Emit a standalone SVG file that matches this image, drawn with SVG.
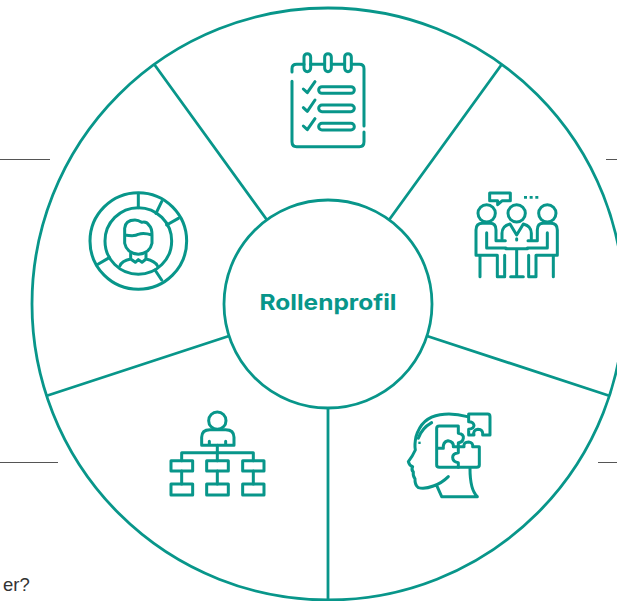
<svg xmlns="http://www.w3.org/2000/svg" width="617" height="601" viewBox="0 0 617 601">
<style>
.s{fill:none;stroke:#08968a;stroke-width:2.800}
.g{fill:none;stroke:#08968a;stroke-width:9;stroke-linecap:round;stroke-linejoin:round}
.h{stroke:#555;stroke-width:1;fill:none}
</style>
<rect width="617" height="601" fill="#fff"/>
<g id="side-lines">
<path class="h" d="M0 159.500H50M606 159.500H617M0 462.500H58M598 462.500H617"/>
</g>
<text x="3" y="591" font-family="Liberation Sans, Arial, sans-serif" font-size="18.500" fill="#333">er?</text>
<g id="wheel"><circle class="s" cx="328" cy="304" r="296"/></g>
<g id="connectors">
<path class="s" d="M267 220L154 64M389 220L502 64M427 336L610 396M328 408V600M229 336L46 396"/>
</g>
<g id="center"><circle class="s" cx="328" cy="304" r="104"/>
<text x="328" y="310" text-anchor="middle" font-family="Inter, Lato, sans-serif" font-weight="700" font-size="22" textLength="137" lengthAdjust="spacingAndGlyphs" fill="#08968a">Rollenprofil</text></g>
<g id="checklist" transform="translate(270 40) scale(.3333)">
<path class="g" d="M66 96V86Q66 73 80 73H102M122 73H160M185 73H222M245 73H268Q282 73 282 86V258M282 276V305Q282 320 268 320H80Q66 320 66 305V124"/>
<rect class="g" x="102" y="41" width="20" height="54" rx="10"/><rect class="g" x="164" y="41" width="20" height="54" rx="10"/><rect class="g" x="224" y="41" width="20" height="54" rx="10"/>
<path class="g" d="M100 147L112 158L135 125M100 203L112 214L135 180M100 258L112 269L135 236"/>
<rect class="g" x="146" y="140" width="107" height="20" rx="10"/><rect class="g" x="146" y="195" width="107" height="20" rx="10"/><rect class="g" x="146" y="250" width="107" height="20" rx="10"/>
</g>
<g id="meeting" transform="translate(460 180) scale(.3333)">
<circle class="g" cx="80" cy="100" r="26"/><circle class="g" cx="170" cy="100" r="26"/><circle class="g" cx="262" cy="100" r="26"/>
<path class="g" d="M89 39H151V62H127L113 74V62H89Z"/>
<path d="M192 48h9v8h-9zM209 48h9v8h-9zM226 48h9v8h-9z" fill="#08968a"/>
<path class="g" d="M60 290V226H48V150Q48 130 68 130H90Q108 130 108 150V182H136M80 158V204H138M60 226H112V290M134 226V290H112"/>
<path class="g" d="M280 290V226H292V150Q292 130 272 130H250Q232 130 232 150V182H204M262 158V204H202M228 226V290M206 226V290H228M280 226H228"/>
<path class="g" d="M126 178V160Q126 138 150 132L170 165L190 132Q214 138 214 160V178M170 176V180"/>
<path class="g" d="M138 206H202M170 206V290M152 290H190"/>
</g>
<g id="head" transform="translate(390 400) scale(.3333)">
<path class="g" d="M232 50Q190 38 150 44Q95 52 78 110Q73 135 76 150Q68 168 55 185Q58 197 68 200Q63 210 70 216Q68 228 75 236Q74 255 85 263Q105 268 130 258Q155 250 175 230M140 256L155 290H262Q240 270 240 205"/>
<path class="g" d="M85 115Q95 85 125 68"/>
<path d="M85 125h7v7h-7z" fill="#08968a"/>
<path class="g" d="M140 145V85Q140 78 148 78H205V100Q222 102 220 115Q218 128 205 128V140H190Q192 125 174 122Q158 125 160 145H140ZM140 145V195Q140 202 148 202H205V188Q188 186 188 172Q188 160 205 158V142"/>
<path class="g" d="M205 140H222Q220 126 236 126Q250 128 248 140H268V195Q268 202 260 202H205"/>
<path class="g" d="M236 65V42H293Q300 42 300 50V105H278Q280 88 264 88Q248 90 252 105H236V88Q252 86 252 76Q250 65 236 65Z"/>
</g>
<g id="org" transform="translate(160 400) scale(.3333)">
<circle class="g" cx="172" cy="62" r="26"/>
<path class="g" d="M125 136V112Q125 89 150 89H197Q222 89 222 112V136ZM148 124V136M197 124V136"/>
<path class="g" d="M172 136V182M65 182V158H280V182M65 213V252M172 213V252M280 213V252"/>
<path class="g" d="M33 182H98V213H33ZM140 182H205V213H140ZM248 182H312V213H248ZM33 252H98V285H33ZM140 252H205V285H140ZM248 252H312V285H248Z"/>
</g>
<g id="profile" transform="translate(80 185) scale(.3333)">
<circle class="g" cx="175" cy="168" r="145"/><circle class="g" cx="175" cy="168" r="100"/>
<path class="g" d="M175 28V68M245 50L228 85M295 100L260 120M50 240L88 218M245 285L225 255"/>
<path class="g" d="M134 150V130Q136 105 165 105Q175 105 185 112Q200 108 208 122Q216 130 216 150V175Q210 205 175 208Q140 205 134 175ZM134 150Q165 155 175 148Q190 142 216 150"/>
<path class="g" d="M120 242Q125 228 152 222V205M198 205V222Q225 228 232 242M152 222L166 232L175 224L186 232L198 222"/>
</g>
</svg>
